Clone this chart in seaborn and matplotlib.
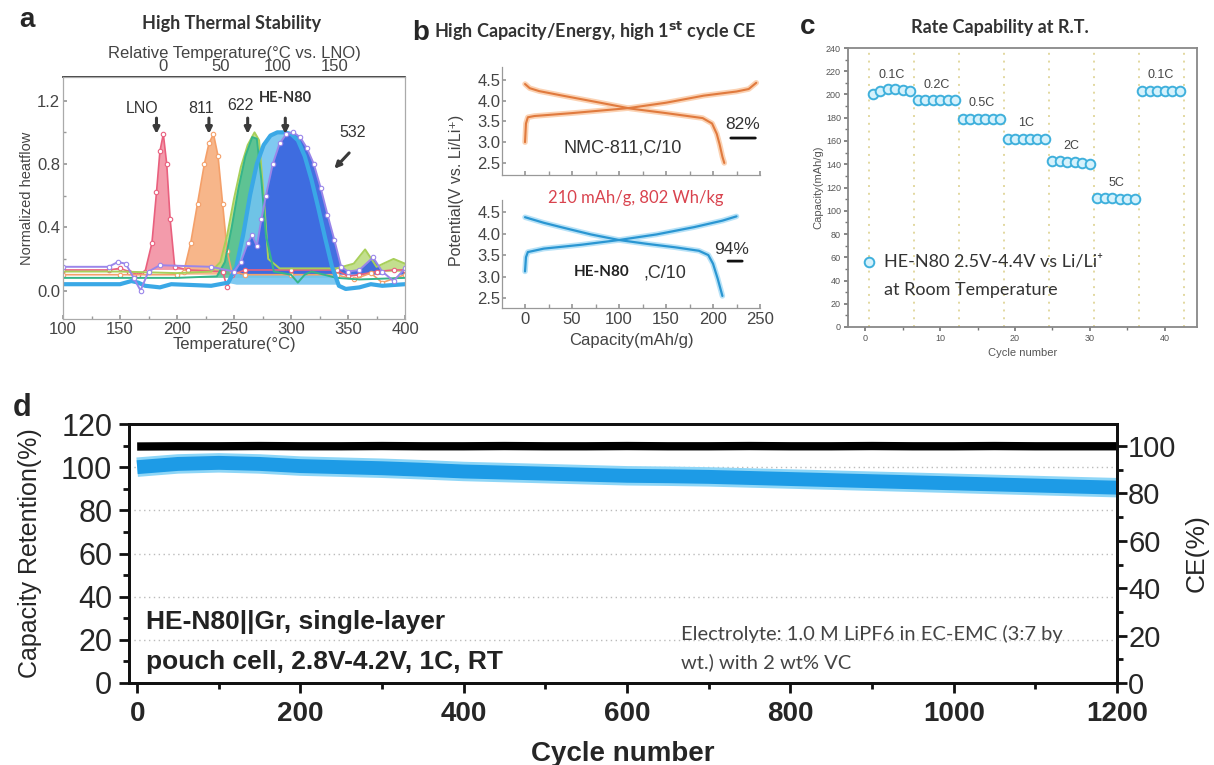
import matplotlib
matplotlib.use("Agg")
import matplotlib.pyplot as plt
import seaborn as sns
import numpy as np
from matplotlib.ticker import MultipleLocator

# ---------------- Panel a : DSC curves (Temperature in °C, normalized heat flow)
lno_T = [100, 140, 150, 158, 166, 172, 178, 182, 185, 188, 191, 194, 198, 210, 240, 244, 248, 260, 300, 340, 350, 360, 375, 390, 400]
lno_H = [0.13, 0.13, 0.14, 0.12, 0.10, 0.12, 0.30, 0.62, 0.88, 0.99, 0.80, 0.45, 0.15, 0.13, 0.12, 0.02, 0.10, 0.13, 0.13, 0.13, 0.09, 0.10, 0.12, 0.13, 0.13]
n811_T = [100, 150, 200, 206, 212, 218, 224, 228, 232, 236, 240, 244, 248, 260, 300, 340, 355, 370, 380, 400]
n811_H = [0.10, 0.10, 0.10, 0.12, 0.30, 0.55, 0.80, 0.93, 0.99, 0.85, 0.55, 0.25, 0.12, 0.10, 0.10, 0.10, 0.07, 0.11, 0.05, 0.10]
n622a_T = [100, 150, 200, 230, 238, 244, 250, 256, 262, 268, 272, 276, 280, 290, 340, 355, 365, 375, 390, 400]
n622a_H = [0.12, 0.12, 0.11, 0.12, 0.18, 0.35, 0.58, 0.78, 0.92, 1.00, 0.95, 0.60, 0.20, 0.14, 0.14, 0.17, 0.26, 0.15, 0.20, 0.17]
n622b_T = [100, 150, 200, 235, 242, 248, 254, 260, 266, 270, 274, 278, 285, 300, 306, 312, 318, 340, 360, 400]
n622b_H = [0.08, 0.08, 0.08, 0.09, 0.18, 0.40, 0.65, 0.85, 0.97, 0.96, 0.70, 0.35, 0.12, 0.10, 0.05, 0.10, 0.12, 0.08, 0.07, 0.08]
hen80_T = [100, 150, 160, 166, 172, 185, 195, 230, 245, 252, 258, 264, 270, 276, 282, 288, 294, 300, 306, 312, 318, 324, 330, 336, 342, 348, 360, 370, 380, 400]
hen80_H = [0.04, 0.04, 0.06, 0.05, 0.03, 0.02, 0.04, 0.03, 0.05, 0.15, 0.35, 0.60, 0.80, 0.92, 0.98, 1.00, 1.00, 0.99, 0.95, 0.85, 0.70, 0.52, 0.33, 0.15, 0.03, 0.01, 0.02, 0.04, 0.03, 0.04]
n532_T = [100, 140, 148, 155, 162, 168, 175, 185, 230, 250, 256, 262, 266, 270, 274, 278, 284, 290, 296, 302, 308, 314, 320, 326, 332, 338, 344, 350, 360, 372, 380, 390, 400]
n532_H = [0.15, 0.15, 0.18, 0.17, 0.08, 0.00, 0.12, 0.16, 0.15, 0.12, 0.18, 0.30, 0.35, 0.28, 0.45, 0.60, 0.80, 0.93, 0.99, 1.00, 0.97, 0.90, 0.80, 0.65, 0.48, 0.32, 0.15, 0.12, 0.13, 0.21, 0.12, 0.06, 0.14]
lno_onset = 188  # LNO peak temperature used for the relative scale

# ---------------- Panel b : first-cycle voltage profiles
nmc_ch_cap = [0, 1, 3, 10, 50, 110, 150, 190, 225, 238, 246]
nmc_ch_V = [3.00, 3.45, 3.60, 3.63, 3.70, 3.82, 3.95, 4.12, 4.22, 4.28, 4.43]
nmc_dis_cap = [0, 5, 15, 40, 80, 112, 150, 189, 199, 204, 207, 210, 212]
nmc_dis_V = [4.40, 4.30, 4.23, 4.12, 3.95, 3.81, 3.70, 3.58, 3.45, 3.20, 2.95, 2.65, 2.50]
he_ch_cap = [0, 1, 3, 20, 60, 100, 140, 180, 210, 225]
he_ch_V = [3.12, 3.45, 3.57, 3.65, 3.74, 3.85, 3.98, 4.15, 4.30, 4.40]
he_dis_cap = [0, 20, 40, 70, 100, 130, 160, 185, 195, 200, 205, 210]
he_dis_V = [4.38, 4.25, 4.14, 3.98, 3.85, 3.76, 3.68, 3.60, 3.50, 3.30, 2.95, 2.55]

# ---------------- Panel c : rate capability
rate_names = ["0.1C", "0.2C", "0.5C", "1C", "2C", "5C", "0.1C"]
rate_cycles = list(range(1, 43))
rate_cap = [200, 203, 205, 205, 204, 203,
            195, 195, 195, 195, 195, 195,
            179, 179, 179, 179, 179, 179,
            162, 162, 162, 162, 162, 162,
            143, 143, 142, 142, 141, 140,
            111, 111, 111, 110, 110, 110,
            203, 203, 203, 203, 203, 203]
rate_bounds = [0.5, 6.5, 12.5, 18.5, 24.5, 30.5, 36.5, 42.5]

# ---------------- Panel d : long-term cycling
d_cycles = [0, 50, 100, 150, 200, 250, 300, 350, 400, 450, 500, 550, 600,
            650, 700, 750, 800, 850, 900, 950, 1000, 1050, 1100, 1150, 1200]
d_retention = [100.0, 101.5, 102.0, 101.5, 100.5, 100.0, 99.5, 98.8, 98.0, 97.5, 97.0, 96.5, 96.0,
               95.8, 95.5, 95.0, 94.5, 94.0, 93.5, 93.0, 92.5, 92.0, 91.5, 91.0, 90.5]
d_ce = [99.8, 99.9, 99.9, 100.0, 99.9, 99.9, 100.0, 99.9, 99.9, 100.0, 99.9, 99.9, 100.0,
        99.9, 99.9, 100.0, 99.9, 99.9, 100.0, 99.9, 99.9, 100.0, 99.9, 99.9, 99.9]

# ================================================================
sns.set_theme(style="ticks")
plt.rcParams['font.family'] = ['Liberation Sans', 'DejaVu Sans']
plt.rcParams['mathtext.default'] = 'regular'

W, H = 1214, 765
fig = plt.figure(figsize=(W / 100, H / 100), dpi=100)
fig.patch.set_facecolor('white')


def rect(x0, y0, x1, y1):
    return [x0 / W, 1 - y1 / H, (x1 - x0) / W, (y1 - y0) / H]


def ftext(x, y, s, **kw):
    kw.setdefault('ha', 'center')
    kw.setdefault('va', 'center')
    fig.text(x / W, 1 - y / H, s, **kw)


CAL = ['Lato', 'DejaVu Sans']
GREY = '#444444'

# ---------------- Panel a
axa = fig.add_axes(rect(63, 77, 405, 319))
curves = [
    (lno_T, lno_H, '#e9607e', '#f28a9c', 'o'),
    (n811_T, n811_H, '#f4a06a', '#f6aa76', 'o'),
    (n622a_T, n622a_H, '#a8cf5a', '#b9da7a', None),
    (n622b_T, n622b_H, '#35b58a', '#4dbf95', None),
]
for T, Hh, lc, fc, mk in curves:
    base = Hh[0]
    axa.fill_between(T, Hh, base, where=np.array(Hh) > base, color=fc, alpha=0.85, lw=0, interpolate=True)
    if mk:
        sns.lineplot(x=T, y=Hh, ax=axa, color=lc, lw=1.2, marker='o', markersize=3.2,
                     markerfacecolor='white', markeredgecolor=lc, markeredgewidth=0.8, estimator=None)
    else:
        sns.lineplot(x=T, y=Hh, ax=axa, color=lc, lw=1.4, estimator=None)

axa.fill_between(hen80_T, hen80_H, hen80_H[0], where=np.array(hen80_H) > 0.1, color='#72c4f0', alpha=0.9, lw=0, interpolate=True)
axa.fill_between(n532_T, n532_H, 0.1, where=(np.array(n532_H) > 0.1) & (np.array(n532_T) > 255), color='#3b67e0', alpha=0.95, lw=0, interpolate=True)
sns.lineplot(x=hen80_T, y=hen80_H, ax=axa, color='#3aa8e6', lw=3.0, estimator=None)
sns.lineplot(x=n532_T, y=n532_H, ax=axa, color='#9a86ea', lw=1.4, marker='o', markersize=3.2,
             markerfacecolor='white', markeredgecolor='#9a86ea', markeredgewidth=0.8, estimator=None)

axa.set_xlim(100, 400)
axa.set_ylim(-0.18, 1.35)
axa.xaxis.set_major_locator(MultipleLocator(50))
axa.xaxis.set_minor_locator(MultipleLocator(25))
axa.yaxis.set_major_locator(MultipleLocator(0.4))
axa.yaxis.set_minor_locator(MultipleLocator(0.2))
axa.yaxis.set_major_formatter(matplotlib.ticker.FormatStrFormatter('%.1f'))
axa.tick_params(which='both', direction='in', labelsize=12, colors='#999999', labelcolor=GREY, length=3, pad=2)
axa.tick_params(which='minor', length=2)
axa.set_xlabel('Temperature(°C)', fontsize=12, color=GREY, labelpad=0)
axa.set_ylabel('Normalized heatflow', fontsize=10.5, color=GREY, labelpad=2)
for sp in axa.spines.values():
    sp.set_color('#aaaaaa')
    sp.set_linewidth(0.9)
sec = axa.secondary_xaxis('top', functions=(lambda t: t - lno_onset, lambda r: r + lno_onset))
sec.set_xticks([0, 50, 100, 150])
sec.tick_params(direction='in', labelsize=12, labelcolor=GREY, colors='#999999', length=0, pad=2)
sec.set_xlabel('Relative Temperature(°C vs. LNO)', fontsize=12, color=GREY, labelpad=1)

arrow_kw = dict(arrowstyle='-|>', lw=2.2, color='#3a3a3a', mutation_scale=9, shrinkA=0, shrinkB=0)
for T in [182, 228, 262, 295]:
    axa.annotate('', xy=(T, 0.99), xytext=(T, 1.09), arrowprops=arrow_kw)
axa.text(169, 1.15, 'LNO', fontsize=11.5, color='#333', ha='center', va='center')
axa.text(221, 1.15, '811', fontsize=11.5, color='#333', ha='center', va='center')
axa.text(256, 1.17, '622', fontsize=11.5, color='#333', ha='center', va='center')
axa.text(295, 1.22, 'HE-N80', fontsize=10.5, color='#333', ha='center', va='center', fontweight='bold', family=CAL)
axa.text(354, 1.00, '532', fontsize=11.5, color='#333', ha='center', va='center')
axa.annotate('', xy=(338, 0.77), xytext=(351, 0.87), arrowprops=arrow_kw)

ftext(27, 20, 'a', fontsize=20, fontweight='bold')
ftext(232, 24, 'High Thermal Stability', fontsize=13, fontweight='bold', family=CAL, color='#333')

# ---------------- Panel b
axb1 = fig.add_axes(rect(502, 67, 760, 175))
axb2 = fig.add_axes(rect(502, 200, 760, 308))
sns.lineplot(x=nmc_ch_cap, y=nmc_ch_V, ax=axb1, color='#fbd2b3', lw=4, estimator=None, sort=False)
sns.lineplot(x=nmc_dis_cap, y=nmc_dis_V, ax=axb1, color='#fbd2b3', lw=4, estimator=None, sort=False)
sns.lineplot(x=nmc_ch_cap, y=nmc_ch_V, ax=axb1, color='#e07a3e', lw=1.5, estimator=None, sort=False)
sns.lineplot(x=nmc_dis_cap, y=nmc_dis_V, ax=axb1, color='#e07a3e', lw=1.5, estimator=None, sort=False)
sns.lineplot(x=he_ch_cap, y=he_ch_V, ax=axb2, color='#b8e2f7', lw=4, estimator=None, sort=False)
sns.lineplot(x=he_dis_cap, y=he_dis_V, ax=axb2, color='#b8e2f7', lw=4, estimator=None, sort=False)
sns.lineplot(x=he_ch_cap, y=he_ch_V, ax=axb2, color='#2a96d2', lw=1.6, estimator=None, sort=False)
sns.lineplot(x=he_dis_cap, y=he_dis_V, ax=axb2, color='#2a96d2', lw=1.6, estimator=None, sort=False)
axb1.set_ylim(2.21, 4.81)
axb2.set_ylim(2.27, 4.78)
for ax in (axb1, axb2):
    ax.set_xlim(-24.5, 250)
    ax.xaxis.set_major_locator(MultipleLocator(50))
    ax.xaxis.set_minor_locator(MultipleLocator(25))
    ax.yaxis.set_major_locator(MultipleLocator(0.5))
    ax.yaxis.set_major_formatter(matplotlib.ticker.FormatStrFormatter('%.1f'))
    ax.spines['top'].set_visible(False)
    ax.spines['right'].set_visible(False)
    for sp in ('left', 'bottom'):
        ax.spines[sp].set_color('#999999')
        ax.spines[sp].set_linewidth(0.9)
    ax.tick_params(which='both', direction='in', colors='#999999', labelcolor=GREY, labelsize=12, length=3, pad=1)
    ax.set_xlabel('')
    ax.set_ylabel('')
axb1.tick_params(axis='x', labelbottom=False)
axb2.tick_params(axis='x', pad=3)
axb2.set_xlabel('Capacity(mAh/g)', fontsize=12, color=GREY, labelpad=4)
axb1.text(104, 2.86, 'NMC-811,C/10', fontsize=13, color='#333', ha='center', va='center')
axb1.text(232, 3.42, '82%', fontsize=12.5, color='#333', ha='center', va='center')
axb1.annotate('', xy=(248, 3.10), xytext=(216, 3.10), arrowprops=dict(arrowstyle='-', lw=2, color='#111'))
axb2.text(82, 3.10, 'HE-N80', fontsize=11, color='#222', ha='center', va='center', fontweight='bold', family=CAL)
axb2.text(149, 3.08, ',C/10', fontsize=13, color='#333', ha='center', va='center')
axb2.text(220, 3.64, '94%', fontsize=12.5, color='#333', ha='center', va='center')
axb2.annotate('', xy=(234, 3.36), xytext=(213, 3.36), arrowprops=dict(arrowstyle='-', lw=2, color='#111'))
ftext(636, 198, '210 mAh/g, 802 Wh/kg', fontsize=12, color='#d9434e', family=CAL)
ftext(457, 190, 'Potential(V vs. Li/Li⁺)', fontsize=11.5, color=GREY, rotation=90)
ftext(421, 33, 'b', fontsize=20, fontweight='bold')
ftext(434, 31, r'High Capacity/Energy, high 1$^{\mathbf{st}}$ cycle CE', fontsize=13, fontweight='bold',
      family=CAL, color='#333', ha='left')

# ---------------- Panel c
axc = fig.add_axes(rect(848, 48, 1197, 327))
for b in rate_bounds:
    axc.axvline(b, ls=(0, (1, 3)), color='#e2d8a0', lw=1.4, zorder=0)
sns.scatterplot(x=rate_cycles, y=rate_cap, ax=axc, s=48, color='#d6f2fc', edgecolor='#3fb0dc',
                linewidth=1.4, label='HE-N80 2.5V-4.4V vs Li/Li⁺', zorder=3)
for i, name in enumerate(rate_names):
    cyc = rate_cycles[i * 6:(i + 1) * 6]
    cap = rate_cap[i * 6:(i + 1) * 6]
    axc.text(np.mean(cyc), np.mean(cap) + 13.5, name, fontsize=9, color='#444', ha='center', va='center')
axc.set_xlim(-2.3, 44.3)
axc.set_ylim(0, 240)
axc.xaxis.set_major_locator(MultipleLocator(10))
axc.xaxis.set_minor_locator(MultipleLocator(5))
axc.yaxis.set_major_locator(MultipleLocator(20))
axc.yaxis.set_minor_locator(MultipleLocator(10))
axc.tick_params(which='both', direction='out', colors='#777777', labelcolor='#555555', labelsize=6.5, length=3, pad=2)
axc.tick_params(which='minor', length=2)
for sp in axc.spines.values():
    sp.set_color('#888888')
    sp.set_linewidth(1.3)
axc.set_xlabel('Cycle number', fontsize=8, color='#555555', labelpad=4)
axc.set_ylabel('Capacity(mAh/g)', fontsize=8, color='#555555', labelpad=2)
leg = axc.legend(loc='center left', bbox_to_anchor=(0.035, 0.233), frameon=False,
                 handletextpad=0.3, borderpad=0, borderaxespad=0, handlelength=1.0,
                 prop={'family': CAL, 'size': 13})
for t in leg.get_texts():
    t.set_color('#333333')
axc.text(0.104, 0.133, 'at Room Temperature', transform=axc.transAxes, fontsize=13, family=CAL,
         color='#333333', ha='left', va='center')
ftext(808, 27, 'c', fontsize=20, fontweight='bold')
ftext(1000, 28, 'Rate Capability at R.T.', fontsize=13, fontweight='bold', family=CAL, color='#333')

# ---------------- Panel d
axd = fig.add_axes(rect(129, 424, 1117, 683))
axd2 = axd.twinx()
sns.lineplot(x=d_cycles, y=d_retention, ax=axd, color='#8ed6f7', lw=14, estimator=None, solid_capstyle='butt')
sns.lineplot(x=d_cycles, y=d_retention, ax=axd, color='#1d9be6', lw=10, estimator=None, solid_capstyle='butt')
sns.lineplot(x=d_cycles, y=d_ce, ax=axd2, color='#000000', lw=6, estimator=None, solid_capstyle='butt')
axd.set_xlim(-10, 1200)
axd.set_ylim(0, 120)
axd2.set_ylim(0, 109.3)
axd.xaxis.set_major_locator(MultipleLocator(200))
axd.xaxis.set_minor_locator(MultipleLocator(100))
axd.yaxis.set_major_locator(MultipleLocator(20))
axd.yaxis.set_minor_locator(MultipleLocator(10))
axd2.yaxis.set_major_locator(MultipleLocator(20))
axd2.yaxis.set_minor_locator(MultipleLocator(10))
axd.grid(axis='y', which='major', ls=(0, (1, 2.5)), color='#bbbbbb', lw=1.0)
axd.set_axisbelow(True)
for ax in (axd, axd2):
    for sp in ax.spines.values():
        sp.set_linewidth(2)
        sp.set_color('#111111')
axd.tick_params(which='major', direction='out', length=7, width=2, labelsize=22, color='#111', pad=5)
axd.tick_params(which='minor', direction='out', length=4, width=2, color='#111')
axd.tick_params(axis='x', which='major', labelsize=20, pad=6)
axd2.tick_params(which='major', direction='out', length=7, width=2, labelsize=21, color='#111', pad=1)
axd2.tick_params(which='minor', direction='out', length=4, width=2, color='#111')
for lab in axd.get_xticklabels():
    lab.set_fontweight('bold')
axd.set_xlabel('Cycle number', fontsize=20, fontweight='bold', labelpad=10)
axd.set_ylabel('Capacity Retention(%)', fontsize=18, labelpad=14)
axd2.set_ylabel('CE(%)', fontsize=19, labelpad=6)
ftext(146, 622, 'HE-N80||Gr, single-layer', fontsize=19, fontweight='bold', ha='left', color='#222')
ftext(146, 662, 'pouch cell, 2.8V-4.2V, 1C, RT', fontsize=19, fontweight='bold', ha='left', color='#222')
ftext(681, 634, 'Electrolyte: 1.0 M LiPF6 in EC-EMC (3:7 by', fontsize=14.5, family=CAL, ha='left', color='#444')
ftext(681, 662, 'wt.) with 2 wt% VC', fontsize=14.5, family=CAL, ha='left', color='#444')
ftext(22, 408, 'd', fontsize=22, fontweight='bold')

fig.savefig('out.png', dpi=100, facecolor='white')
